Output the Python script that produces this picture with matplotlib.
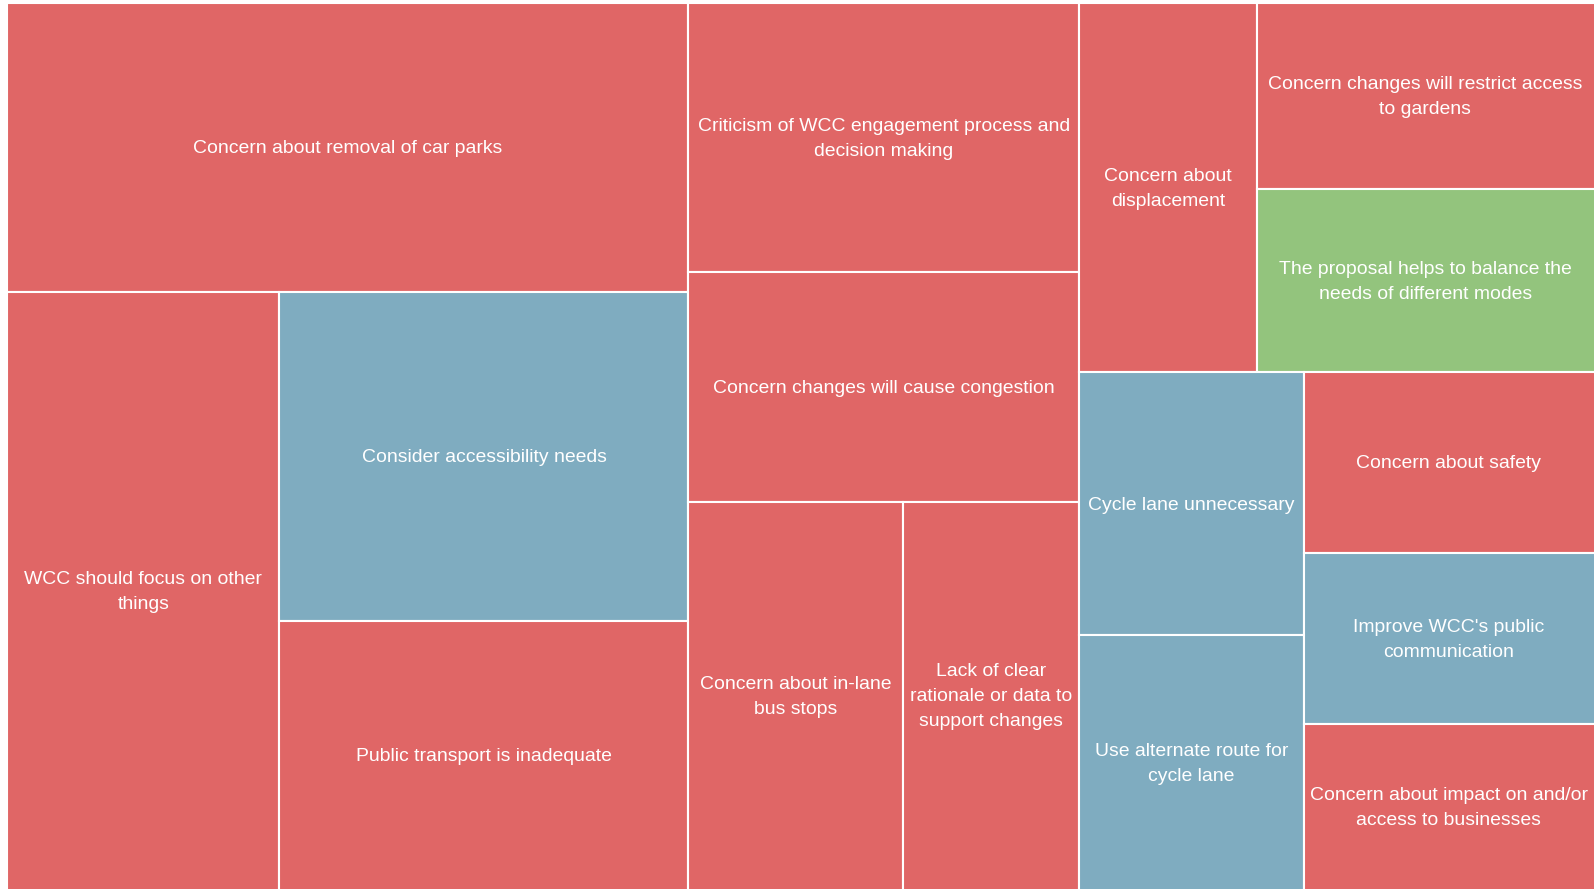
import matplotlib
matplotlib.use('Agg')
import matplotlib.pyplot as plt
from matplotlib.patches import Rectangle

# comment themes, largest first
labels = [
  'Concern about removal of car parks',
  'WCC should focus on other\nthings',
  'Consider accessibility needs',
  'Public transport is inadequate',
  'Criticism of WCC engagement process and\ndecision making',
  'Concern changes will cause congestion',
  'Concern about in-lane\nbus stops',
  'Lack of clear\nrationale or data to\nsupport changes',
  'Concern about\ndisplacement',
  'Concern changes will restrict access\nto gardens',
  'The proposal helps to balance the\nneeds of different modes',
  'Cycle lane unnecessary',
  'Use alternate route for\ncycle lane',
  'Concern about safety',
  "Improve WCC's public\ncommunication",
  'Concern about impact on and/or\naccess to businesses',
]
values = [196.6, 163.6, 134.8, 110.8, 105.2, 89.7, 83.6, 69.0,
          65.4, 63.9, 63.0, 59.2, 57.6, 53.8, 51.0, 49.8]
kinds = ['concern', 'concern', 'suggestion', 'concern', 'concern', 'concern', 'concern', 'concern',
         'concern', 'concern', 'support', 'suggestion', 'suggestion', 'concern', 'suggestion', 'concern']

palette = {'concern': '#E06666', 'suggestion': '#7FACC0', 'support': '#93C47D'}

def split_layout(idx, x, y, w, h, out):
  """
  Recursively split the ordered items in two: the first group takes the largest
  prefix not above half of the total, and the cut runs across the longer side.
  """
  if len(idx) == 1:
    out.append((idx[0], x, y, w, h))
    return
  total = sum(values[i] for i in idx)
  k = 1
  acc = values[idx[0]]
  while k < len(idx) - 1 and acc + values[idx[k]] <= total / 2:
    acc += values[idx[k]]
    k += 1
  frac = acc / total
  if w >= h:
    split_layout(idx[:k], x, y, w * frac, h, out)
    split_layout(idx[k:], x + w * frac, y, w * (1 - frac), h, out)
  else:
    split_layout(idx[:k], x, y, w, h * frac, out)
    split_layout(idx[k:], x, y + h * frac, w, h * (1 - frac), out)

W, H = 1594, 889
rects = []
split_layout(list(range(len(values))), 0, 0, W, H, rects)

fig = plt.figure(figsize = (15.94, 8.89), dpi = 100)
ax = fig.add_axes([0, 0, 1, 1])
xlim = (-7, W - 7)
ylim = (H - 3, -3)
ax.set_xlim(*xlim)
ax.set_ylim(*ylim)
ax.axis('off')

for i, x, y, w, h in rects:
  ax.add_patch(Rectangle((x, y), w, h, facecolor = palette[kinds[i]], edgecolor = 'white', linewidth = 1.5))
  # centre the label on the part of the box that is on screen
  vx0, vx1 = max(x, xlim[0]), min(x + w, xlim[1])
  vy0, vy1 = max(y, ylim[1]), min(y + h, ylim[0])
  ax.text((vx0 + vx1) / 2, (vy0 + vy1) / 2 + 1.5, labels[i], ha = 'center', va = 'center', multialignment = 'center',
          color = 'white', fontsize = 13.95, family = 'Liberation Sans', linespacing = 1.63)

fig.savefig('out.png', dpi = 100)
